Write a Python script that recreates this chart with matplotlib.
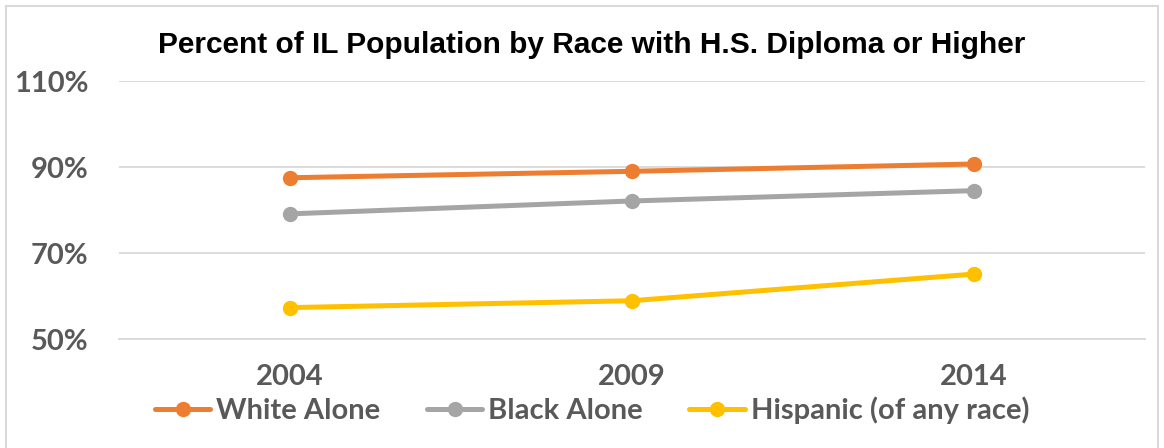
import numpy as np
import matplotlib.pyplot as plt
from matplotlib.patches import Rectangle

years = ['2004', '2009', '2014']
white = [87.5, 89.0, 90.7]
black = [79.1, 82.1, 84.5]
hispanic = [57.3, 58.9, 65.1]
series_names = ['White Alone', 'Black Alone', 'Hispanic (of any race)']
colors = ['#ED7D31', '#A5A5A5', '#FFC000']

fig = plt.figure(figsize=(11.64, 4.48), dpi=100)
ax = fig.add_axes([119/1164, 1-339/448, (1145-119)/1164, (339-81)/448])

x = np.arange(len(years))
for vals, name, c in zip([white, black, hispanic], series_names, colors):
    ax.plot(x, vals, color=c, lw=3.6, marker='o', ms=10, label=name,
            solid_capstyle='round')

ax.set_xlim(-0.5, 2.5)
ax.set_ylim(50, 110)
ax.set_yticks([50, 70, 90, 110])
ax.set_yticklabels(['50%', '70%', '90%', '110%'])
ax.set_xticks(x)
ax.set_xticklabels(years)
ax.grid(axis='y', color='#D9D9D9', lw=1.3)
ax.set_axisbelow(True)
for s in ['top', 'left', 'right']:
    ax.spines[s].set_visible(False)
ax.spines['bottom'].set_color('#D9D9D9')
ax.spines['bottom'].set_linewidth(1.3)
ax.tick_params(length=0, labelcolor='#595959')
for lab in ax.get_yticklabels() + ax.get_xticklabels():
    lab.set_fontfamily('Lato')
    lab.set_fontweight('bold')
    lab.set_fontsize(21)
ax.tick_params(axis='y', pad=22)
ax.tick_params(axis='x', pad=18)

fig.text(592/1164, 1-45/448, 'Percent of IL Population by Race with H.S. Diploma or Higher',
         ha='center', va='center', fontsize=21.5, fontweight='bold',
         family='Liberation Sans', color='black')

leg = fig.legend(loc='center', bbox_to_anchor=(592/1164, 1-410/448), ncol=3,
                 frameon=False, handlelength=1.9, handletextpad=0.2,
                 columnspacing=1.6,
                 prop={'family': 'Lato', 'weight': 'bold', 'size': 21})
for t in leg.get_texts():
    t.set_color('#595959')

fig.patches.append(Rectangle((6/1164, -0.05), (1158-6)/1164, 1.05-6/448,
                             transform=fig.transFigure, fill=False,
                             edgecolor='#D9D9D9', lw=1.5))

fig.savefig('out.png', dpi=100)
